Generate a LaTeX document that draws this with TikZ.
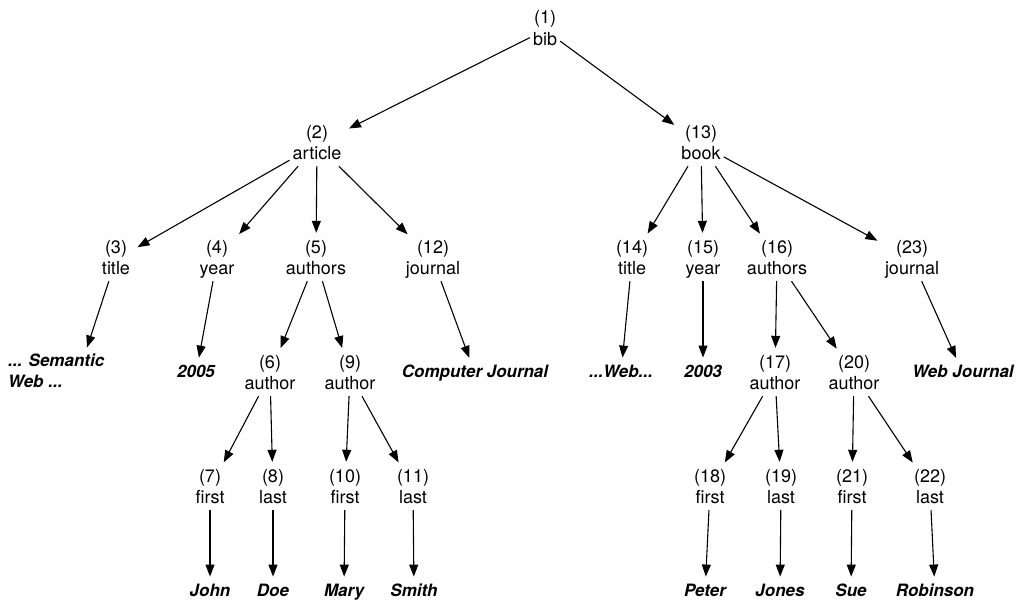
\documentclass[tikz,border=0pt]{standalone}
\usepackage{fontspec}
\setmainfont{TeX Gyre Heros}
\usetikzlibrary{arrows.meta}
% two-line tree label: number above element name
\newcommand\twolines[2]{\strut#1\\\strut#2}
\begin{document}
\begin{tikzpicture}[x=1pt,y=-1pt,
  lbl/.style={align=center, inner xsep=3pt, inner ysep=0pt,
    font=\fontsize{18}{21.5}\selectfont},
  leaf/.style={inner xsep=3pt, inner ysep=0pt,
    font=\fontsize{17}{21.5}\selectfont\bfseries\itshape},
  edge/.style={-{Triangle[length=12pt,width=9pt]}, line width=1.1pt, shorten >=5pt}
]
\useasboundingbox (0,0) rectangle (1020,603);

\begin{scope}[yshift=-2.5pt]
% root and second level
\node[lbl] (n1)  at (545,27.5) {\twolines{(1)}{bib}};
\node[lbl] (n2)  at (317,142)  {\twolines{(2)}{article}};
\node[lbl] (n13) at (701,142)  {\twolines{(13)}{book}};

% children of article
\node[lbl] (n3)  at (116,257) {\twolines{(3)}{title}};
\node[lbl] (n4)  at (217,257) {\twolines{(4)}{year}};
\node[lbl] (n5)  at (316,257) {\twolines{(5)}{authors}};
\node[lbl] (n12) at (433,257) {\twolines{(12)}{journal}};

% children of book
\node[lbl] (n14) at (632,257) {\twolines{(14)}{title}};
\node[lbl] (n15) at (703,257) {\twolines{(15)}{year}};
\node[lbl] (n16) at (777,257) {\twolines{(16)}{authors}};
\node[lbl] (n23) at (912,257) {\twolines{(23)}{journal}};

% author elements
\node[lbl] (n6)  at (270,372) {\twolines{(6)}{author}};
\node[lbl] (n9)  at (350,372) {\twolines{(9)}{author}};
\node[lbl] (n17) at (775,372) {\twolines{(17)}{author}};
\node[lbl] (n20) at (854,372) {\twolines{(20)}{author}};

% name parts
\node[lbl] (n7)  at (210,486) {\twolines{(7)}{first}};
\node[lbl] (n8)  at (273,486) {\twolines{(8)}{last}};
\node[lbl] (n10) at (345,486) {\twolines{(10)}{first}};
\node[lbl] (n11) at (413,486) {\twolines{(11)}{last}};
\node[lbl] (n18) at (710,486) {\twolines{(18)}{first}};
\node[lbl] (n19) at (781,486) {\twolines{(19)}{last}};
\node[lbl] (n21) at (852,486) {\twolines{(21)}{first}};
\node[lbl] (n22) at (930,486) {\twolines{(22)}{last}};

% text values
\node[leaf, align=left, anchor=west] (vsem) at (5,370) {\strut... Semantic\\\strut Web ...};
\coordinate (semtop) at (87,345);
\node[leaf] (v2005)  at (196,371) {\strut 2005};
\node[leaf] (vcj)    at (475,371) {\strut Computer Journal};
\node[leaf] (vweb)   at (621,371) {\strut ...Web...};
\node[leaf] (v2003)  at (703,371) {\strut 2003};
\node[leaf] (vwj)    at (963,371) {\strut Web Journal};

\node[leaf] (vjohn)  at (210,590) {\strut John};
\node[leaf] (vdoe)   at (273,590) {\strut Doe};
\node[leaf] (vmary)  at (344,590) {\strut Mary};
\node[leaf] (vsmith) at (414,590) {\strut Smith};
\node[leaf] (vpeter) at (705,590) {\strut Peter};
\node[leaf] (vjones) at (780,590) {\strut Jones};
\node[leaf] (vsue)   at (851,590) {\strut Sue};
\node[leaf] (vrob)   at (935,590) {\strut Robinson};

% connectors
\draw[edge] (n1) -- (n2);
\draw[edge] (n1) -- (n13);

\draw[edge] (n2) -- (n3);
\draw[edge] (n2) -- (n4);
\draw[edge] (n2) -- (n5);
\draw[edge] (n2) -- (n12);

\draw[edge] (n13) -- (n14);
\draw[edge] (n13) -- (n15);
\draw[edge] (n13) -- (n16);
\draw[edge] (n13) -- (n23);

\draw[edge, shorten >=0pt] (n3) -- (semtop);
\draw[edge] (n4) -- (v2005);
\draw[edge] (n12) -- (vcj);
\draw[edge] (n14) -- (vweb);
\draw[edge] (n15) -- (v2003);
\draw[edge] (n23) -- (vwj);

\draw[edge] (n5) -- (n6);
\draw[edge] (n5) -- (n9);
\draw[edge] (n16) -- (n17);
\draw[edge] (n16) -- (n20);

\draw[edge] (n6) -- (n7);
\draw[edge] (n6) -- (n8);
\draw[edge] (n9) -- (n10);
\draw[edge] (n9) -- (n11);
\draw[edge] (n17) -- (n18);
\draw[edge] (n17) -- (n19);
\draw[edge] (n20) -- (n21);
\draw[edge] (n20) -- (n22);

\draw[edge] (n7) -- (vjohn);
\draw[edge] (n8) -- (vdoe);
\draw[edge] (n10) -- (vmary);
\draw[edge] (n11) -- (vsmith);
\draw[edge] (n18) -- (vpeter);
\draw[edge] (n19) -- (vjones);
\draw[edge] (n21) -- (vsue);
\draw[edge] (n22) -- (vrob);
\end{scope}
\end{tikzpicture}
\end{document}
